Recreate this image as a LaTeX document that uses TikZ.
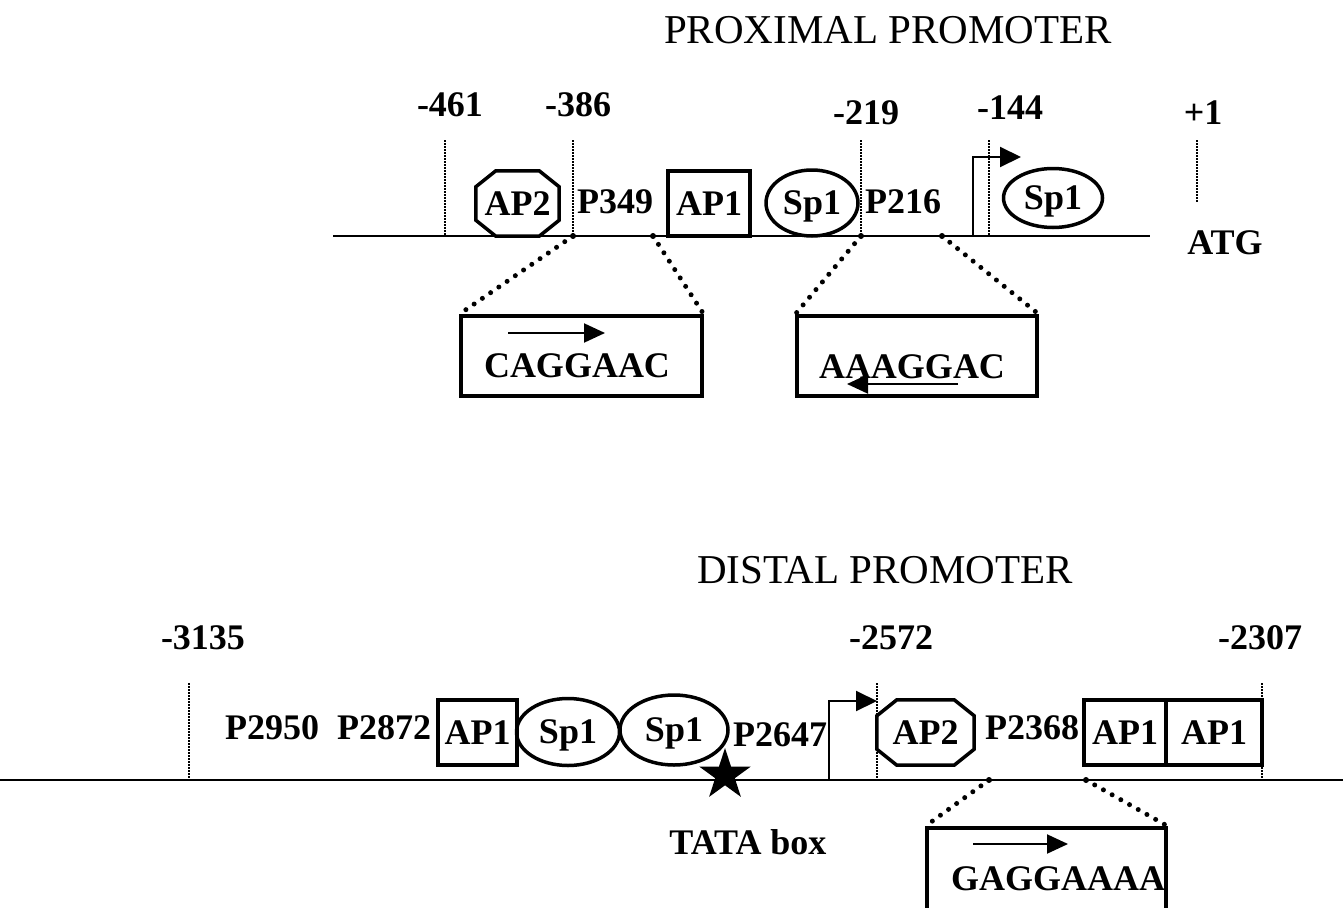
\documentclass[tikz,border=0pt]{standalone}
\usepackage{fontspec}
\setmainfont{Liberation Serif}
\usetikzlibrary{calc,arrows.meta,shapes.geometric}
\newcommand{\labfont}{\bfseries\fontsize{36}{40}\selectfont}
\newcommand{\ttlfont}{\fontsize{41}{46}\selectfont}
% octagon drawn round a (plain) node
\newcommand{\octagon}[1]{%
  \draw[shp] ($(#1.north west)+(20,0)$) -- ($(#1.north east)+(-20,0)$)
    -- ($(#1.north east)+(0,16)$) -- ($(#1.south east)+(0,-16)$)
    -- ($(#1.south east)+(-20,0)$) -- ($(#1.south west)+(20,0)$)
    -- ($(#1.south west)+(0,-16)$) -- ($(#1.north west)+(0,16)$) -- cycle;}
\tikzset{
  dna/.style={draw, line width=2pt},
  shp/.style={draw, line width=3.5pt},
  posline/.style={draw, line width=1.5pt, dash pattern=on 1.5pt off 1.5pt},
  link/.style={draw, line width=5pt, line cap=round, dash pattern=on 0pt off 10pt},
  tss/.style={draw, line width=2pt, -{Triangle[length=21pt,width=20pt]}},
  orient/.style={draw, line width=2pt, -{Triangle[length=21pt,width=19pt]}},
  lab/.style={font=\labfont, inner sep=0pt},
  ttl/.style={font=\ttlfont, inner sep=0pt},
  apone/.style={shp, lab, rectangle, minimum height=65pt},
  spone/.style={shp, lab, ellipse, text depth=0pt},
  aptwo/.style={lab, rectangle, minimum height=65pt},
  seq/.style={shp, rectangle, inner sep=0pt},
  dot/.style={circle, fill, inner sep=0pt, minimum size=6pt},
}

\begin{document}
\begin{tikzpicture}[x=1pt,y=-1pt]
  \useasboundingbox (0,0) rectangle (1343,907);
  \clip (0,0) rectangle (1343,907);

  % proximal promoter
  \node[ttl] (proxT) at (888,30) {PROXIMAL PROMOTER};
  \draw[dna] (333,236) -- (1150,236);

  \node[lab] (mA) at (450,105) {-461};
  \node[lab] (mB) at (578,105) {-386};
  \node[lab] (mC) at (866,113) {-219};
  \node[lab] (mD) at (1010,108) {-144};
  \node[lab] (mE) at (1203,113) {+1};
  \draw[posline] (445,140) -- (445,236);
  \draw[posline] (573,140) -- (573,236);
  \draw[posline] (861,140) -- (861,236);
  \draw[posline] (989,140) -- (989,236);
  \draw[posline] (1197,140) -- (1197,203);

  \node[aptwo, minimum width=83pt] (apTwoP) at (517.5,203.5) {AP2};
  \octagon{apTwoP}
  \node[lab] (pA) at (615,202) {P349};
  \node[apone, minimum width=82pt] (apOneP) at (709,203.5) {AP1};
  \node[spone, minimum width=92pt, minimum height=66pt] (spOneP) at (812,203) {Sp1};
  \node[lab] (pB) at (903,202) {P216};
  \draw[tss] (973,236) |- (1021,157);
  \node[spone, minimum width=99pt, minimum height=59pt] (spTwoP) at (1053,198) {Sp1};
  \node[lab] (atg) at (1225,243) {ATG};

  % sequence boxes
  \node[dot] (dA) at (573,236) {};
  \node[dot] (dB) at (653,236) {};
  \node[dot] (dC) at (861,236) {};
  \node[dot] (dD) at (942,236) {};
  \node[seq, minimum width=241pt, minimum height=80pt] (seqA) at (581.5,356) {};
  \node[seq, minimum width=240pt, minimum height=80pt] (seqB) at (917,356) {};
  \draw[link] (dA.center) -- (seqA.north west);
  \draw[link] (dB.center) -- (seqA.north east);
  \draw[link] (dC.center) -- (seqB.north west);
  \draw[link] (dD.center) -- (seqB.north east);
  \node[lab] (seqAt) at (577,366) {CAGGAAC};
  \node[lab] (seqBt) at (912,367) {AAAGGAC};
  \draw[orient] (508,333) -- (605,333);
  \draw[orient] (958,384) -- (847,384);

  % distal promoter
  \node[ttl] (distT) at (885,570) {DISTAL PROMOTER};
  \draw[dna] (0,780) -- (1343,780);

  \node[lab] (mF) at (203,638) {-3135};
  \node[lab] (mG) at (891,638) {-2572};
  \node[lab] (mH) at (1260,638) {-2307};
  \draw[posline] (189,683) -- (189,780);
  \draw[posline] (877,683) -- (877,780);
  \draw[posline] (1262,683) -- (1262,780);

  \node[lab] (pC) at (272,728) {P2950};
  \node[lab] (pD) at (384,728) {P2872};
  \node[apone, minimum width=79pt] (apOneD) at (477.5,732.5) {AP1};
  \node[spone, minimum width=103pt, minimum height=67pt] (spOneD) at (568,732) {Sp1};
  \node[spone, minimum width=108pt, minimum height=70pt] (spTwoD) at (674,730) {Sp1};
  \node[star, star points=5, star point ratio=2.618, minimum size=54pt,
        fill, inner sep=0pt] (tata) at (725,775) {};
  \node[lab] (tataT) at (748,842) {TATA box};
  \node[lab] (pE) at (780,735) {P2647};
  \draw[tss] (829,780) |- (877,701);
  \node[aptwo, minimum width=97pt] (apTwoD) at (925.5,732.5) {AP2};
  \octagon{apTwoD}
  \node[lab] (pF) at (1032,728) {P2368};
  \node[apone, minimum width=82pt] (apOneE) at (1125,732.5) {AP1};
  \node[apone, minimum width=96pt] (apOneF) at (1214,732.5) {AP1};

  \node[dot] (dE) at (989,780) {};
  \node[dot] (dF) at (1086,780) {};
  \node[seq, minimum width=239pt, minimum height=110pt] (seqC) at (1046.5,883) {};
  \draw[link] (dE.center) -- (seqC.north west);
  \draw[link] (dF.center) -- (seqC.north east);
  \node[lab] (seqCt) at (1058,879) {GAGGAAAA};
  \draw[orient] (973,844) -- (1068,844);
\end{tikzpicture}
\end{document}
